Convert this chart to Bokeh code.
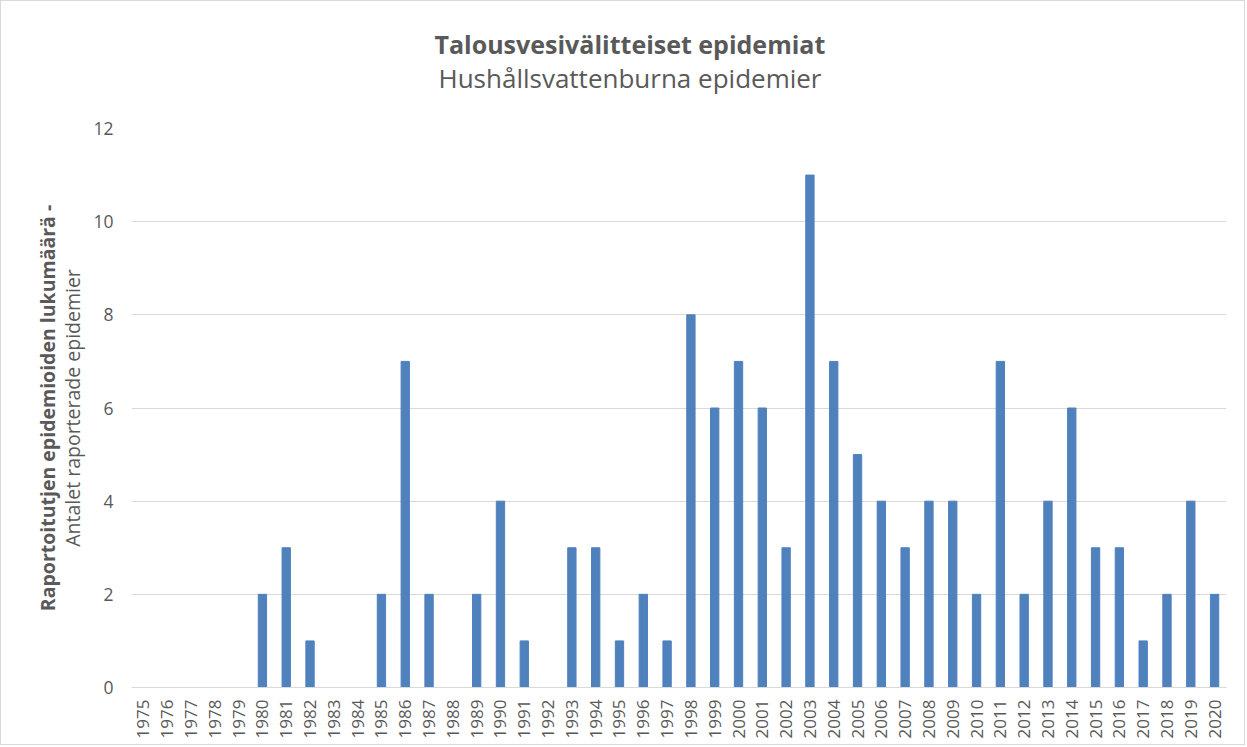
import math
from bokeh.plotting import figure
from bokeh.models import Title, LinearAxis, FixedTicker, Range1d, FactorRange
from bokeh.embed import file_html
from bokeh.resources import INLINE

years = [str(y) for y in range(1975, 2021)]
counts = [0, 0, 0, 0, 0, 2, 3, 1, 0, 0,
          2, 7, 2, 0, 2, 4, 1, 0, 3, 3,
          1, 2, 1, 8, 6, 7, 6, 3, 11, 7,
          5, 4, 3, 4, 4, 2, 7, 2, 4, 6,
          3, 3, 1, 2, 4, 2]
y_ticks = [0, 2, 4, 6, 8, 10, 12]

title_main = "Talousvesivälitteiset epidemiat"
title_sub = "Hushållsvattenburna epidemier"
ylabel_1 = "Raportoitutjen epidemioiden lukumäärä -"
ylabel_2 = "Antalet raporterade epidemier"

FONT = "Open Sans"
GREY = "#595959"

p = figure(x_range=FactorRange(*years, range_padding=0), y_range=Range1d(0, 12),
           width=1245, height=745, output_backend="svg", toolbar_location=None,
           min_border_left=130, min_border_right=20, min_border_top=127, min_border_bottom=59)

p.vbar(x=years, top=counts, width=0.35, fill_color="#4f81bd", line_color="#4f81bd")

p.add_layout(Title(text=title_sub, align="left", offset=307, text_font=FONT, text_font_size="26px",
                   text_font_style="normal", text_color=GREY, standoff=65), "above")
p.add_layout(Title(text=title_main, align="left", offset=303, text_font=FONT, text_font_size="25px",
                   text_font_style="bold", text_color=GREY, standoff=-70), "above")

p.outline_line_color = None
p.xgrid.grid_line_color = None
p.ygrid.grid_line_color = "#d9d9d9"
p.ygrid.ticker = FixedTicker(ticks=y_ticks)

ya = p.yaxis[0]
ya.ticker = FixedTicker(ticks=y_ticks)
ya.axis_line_color = None
ya.major_tick_line_color = None
ya.minor_tick_line_color = None
ya.major_label_standoff = 12
ya.major_label_text_font = FONT
ya.major_label_text_font_size = "17.5px"
ya.major_label_text_color = GREY
ya.axis_label = ylabel_2
ya.axis_label_text_font = FONT
ya.axis_label_text_font_size = "19.5px"
ya.axis_label_text_font_style = "normal"
ya.axis_label_text_color = GREY
ya.axis_label_standoff = 4

extra = LinearAxis(ticker=FixedTicker(ticks=[]), axis_label=ylabel_1,
                   axis_line_color=None, major_tick_line_color=None, minor_tick_line_color=None,
                   axis_label_text_font=FONT, axis_label_text_font_size="19.5px",
                   axis_label_text_font_style="bold", axis_label_text_color=GREY,
                   axis_label_standoff=-4, major_label_text_font_size="0px")
p.add_layout(extra, "left")

xa = p.xaxis[0]
xa.axis_line_color = "#d9d9d9"
xa.major_tick_line_color = None
xa.minor_tick_line_color = None
xa.major_label_orientation = math.pi / 2
xa.major_label_standoff = 6
xa.major_label_text_font = FONT
xa.major_label_text_font_size = "17px"
xa.major_label_text_color = GREY

p.styles = {"border": "1px solid #d9d9d9"}

open("out.html", "w").write(file_html(p, INLINE))
